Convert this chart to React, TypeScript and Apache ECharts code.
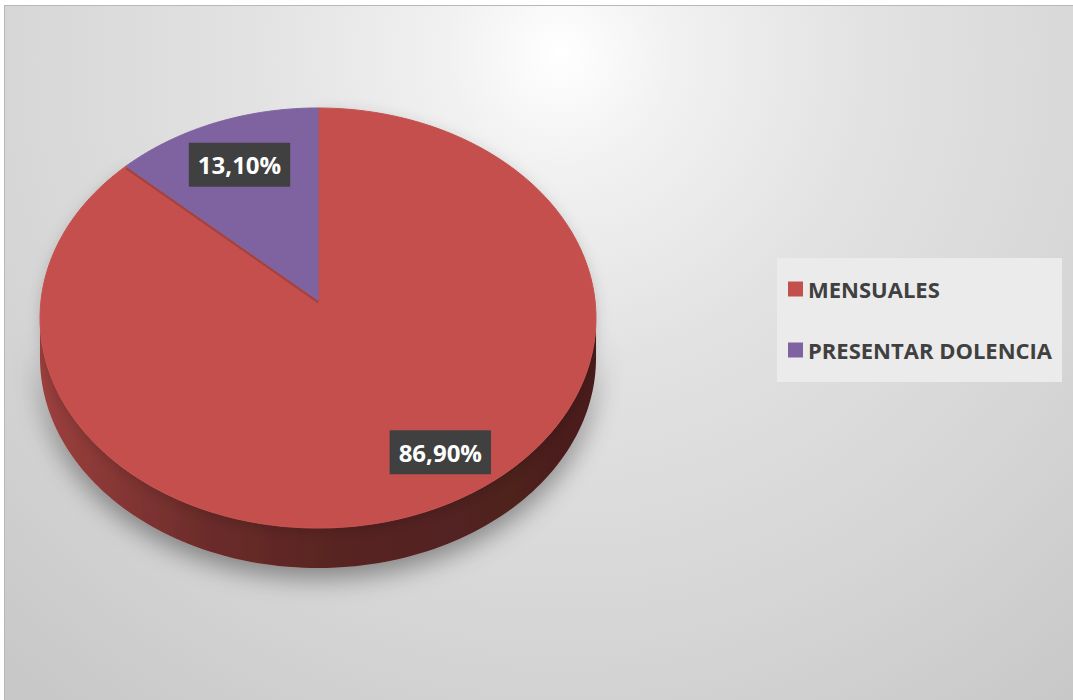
import React, { useEffect, useRef } from 'react';
import * as echarts from 'echarts';

const CATEGORIES = ['MENSUALES', 'PRESENTAR DOLENCIA'];
const VALUES = [86.9, 13.1];
const COLORS = ['#c4504d', '#7f63a1'];

// pie geometry (perspective-projected disc)
const CX = 318;
const APEX_Y = 300;
const RX = 277;
const RY = 208.5;
const K = 0.0857;
const DEPTH = 40;
const TOTAL = VALUES.reduce((a, b) => a + b, 0);

function proj(theta: number, f = 1): [number, number] {
  const u = Math.sin(theta) * f;
  const v = -Math.cos(theta) * f;
  const w = 1 - K * v;
  return [CX + (RX * u) / w, APEX_Y + (RY * v) / w];
}

function shade(hex: string, k: number) {
  const c = hex.replace('#', '');
  const r = Math.round(parseInt(c.slice(0, 2), 16) * k);
  const g = Math.round(parseInt(c.slice(2, 4), 16) * k);
  const b = Math.round(parseInt(c.slice(4, 6), 16) * k);
  return `rgb(${r},${g},${b})`;
}

function fmt(v: number) {
  return v.toFixed(2).replace('.', ',') + '%';
}

function renderSlice(params: any, api: any) {
  const idx = params.seriesIndex;
  const before = VALUES.slice(0, idx).reduce((a, b) => a + b, 0);
  const start = (before / TOTAL) * Math.PI * 2;
  const end = start + (api.value(0) / TOTAL) * Math.PI * 2;
  const color = COLORS[idx];
  const N = 120;
  const top: number[][] = [[CX, APEX_Y]];
  for (let n = 0; n <= N; n++) top.push(proj(start + ((end - start) * n) / N));
  const children: any[] = [];

  // visible side wall
  const s1 = Math.acos(-K);
  const s2 = Math.PI * 2 - s1;
  const a = Math.max(start, s1);
  const b = Math.min(end, s2);
  if (b > a) {
    const upper: number[][] = [];
    for (let n = 0; n <= N; n++) upper.push(proj(a + ((b - a) * n) / N));
    const lower = upper.map((p) => [p[0], p[1] + DEPTH]).reverse();
    children.push({
      type: 'polygon',
      z2: 1,
      shape: { points: upper.concat(lower) },
      style: {
        fill: {
          type: 'linear',
          x: 0, y: 0, x2: 1, y2: 0,
          colorStops: [
            { offset: 0, color: shade(color, 0.8) },
            { offset: 0.28, color: shade(color, 0.56) },
            { offset: 0.5, color: shade(color, 0.46) },
            { offset: 1, color: shade(color, 0.38) },
          ],
        },
        shadowBlur: 26,
        shadowColor: 'rgba(0,0,0,0.4)',
        shadowOffsetY: 10,
      },
    });
  }

  children.push({
    type: 'polygon',
    z2: 2,
    shape: { points: top },
    style: {
      fill: color,
      stroke: color,
      lineWidth: 1,
      shadowBlur: idx === 0 ? 14 : 0,
      shadowColor: 'rgba(0,0,0,0.16)',
      shadowOffsetY: 3,
    },
  });

  const mid = (start + end) / 2;
  const lp = proj(mid, 0.75);
  const dx = idx === 0 ? 34 : 0;
  children.push({
    type: 'text',
    z2: 5,
    x: lp[0] + dx,
    y: lp[1],
    style: {
      text: fmt(api.value(0)),
      fill: '#ffffff',
      font: 'bold 24px "Open Sans"',
      align: 'center',
      verticalAlign: 'middle',
      lineHeight: 32,
      backgroundColor: '#404040',
      padding: [6, 9, 6, 9],
      boxShadowBlur: 6,
      boxShadowColor: 'rgba(0,0,0,0.45)',
      boxShadowOffsetX: 2,
      boxShadowOffsetY: 3,
    },
  });

  return { type: 'group', children };
}

export default function App() {
  const ref = useRef<HTMLDivElement>(null);
  useEffect(() => {
    if (!ref.current) return;
    const chart = echarts.init(ref.current, undefined, { renderer: 'svg' });
    chart.setOption({
      animation: false,
      backgroundColor: 'transparent',
      legend: {
        data: CATEGORIES,
        orient: 'vertical',
        left: 777,
        top: 258,
        icon: 'rect',
        itemWidth: 15,
        itemHeight: 15,
        itemGap: 37,
        padding: [19, 10, 20, 11],
        backgroundColor: '#ebebeb',
        selectedMode: false,
        textStyle: {
          fontFamily: 'Open Sans',
          fontWeight: 'bold',
          fontSize: 22,
          color: '#404040',
          lineHeight: 24,
        },
      },
      series: CATEGORIES.map((name, i) => ({
        type: 'custom',
        name,
        coordinateSystem: 'none',
        itemStyle: { color: COLORS[i] },
        data: [[VALUES[i]]],
        renderItem: renderSlice,
      })),
    });
    return () => chart.dispose();
  }, []);
  return (
    <div style={{ position: 'fixed', left: 0, top: 0, width: 1073, height: 700, background: '#ffffff' }}>
      <div
        style={{
          position: 'absolute',
          left: 4,
          top: 5,
          right: 0,
          bottom: 0,
          borderTop: '1px solid #b8b8b8',
          borderLeft: '1px solid #b8b8b8',
          background:
            'radial-gradient(circle 820px at 52% 7%, #ffffff 0%, #f1f1f1 14%, #e2e2e2 38%, #d5d5d5 72%, #c8c8c8 100%)',
        }}
      />
      <div ref={ref} style={{ position: 'absolute', left: 0, top: 0, width: 1073, height: 700 }} />
    </div>
  );
}
